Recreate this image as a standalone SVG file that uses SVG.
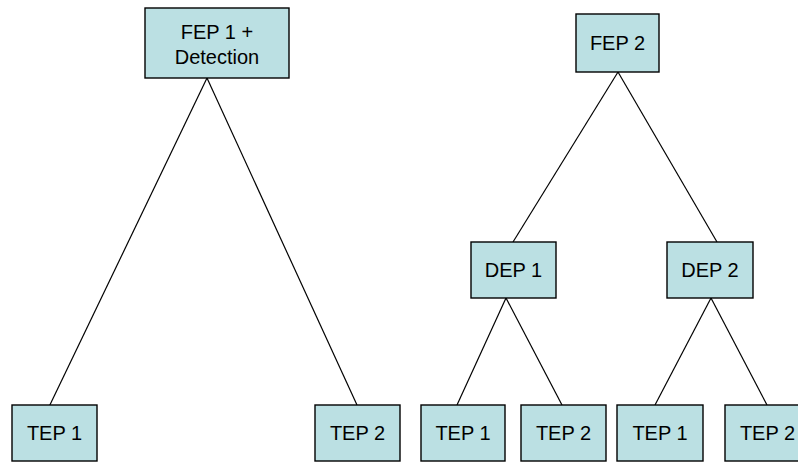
<svg xmlns="http://www.w3.org/2000/svg" width="798" height="462" viewBox="0 0 798 462">
  <style>
    .box { fill: #BBE0E3; stroke: #000; stroke-width: 1.4; }
    .lbl { font-family: "Liberation Sans", Arial, sans-serif; font-size: 20px; fill: #000; text-anchor: middle; }
    .edge { stroke: #000; stroke-width: 1.2; fill: none; }
  </style>
  <rect width="798" height="462" fill="#fff"/>

  <!-- connectors -->
  <g id="connectors">
    <line class="edge" x1="207" y1="78" x2="47" y2="411"/>
    <line class="edge" x1="207" y1="78" x2="357" y2="405"/>
    <line class="edge" x1="618" y1="72" x2="513" y2="242"/>
    <line class="edge" x1="618" y1="72" x2="717" y2="242"/>
    <line class="edge" x1="506" y1="298" x2="457" y2="405"/>
    <line class="edge" x1="506" y1="298" x2="562" y2="405"/>
    <line class="edge" x1="711" y1="298" x2="655" y2="405"/>
    <line class="edge" x1="711" y1="298" x2="767" y2="405"/>
  </g>

  <!-- left tree -->
  <g id="fep1">
    <rect class="box" x="145" y="8" width="144" height="70"/>
    <text class="lbl" x="217" y="39">FEP 1 +</text>
    <text class="lbl" x="217" y="64">Detection</text>
  </g>
  <g id="tep1-a">
    <rect class="box" x="12" y="405" width="85" height="56"/>
    <text class="lbl" x="54.5" y="440">TEP 1</text>
  </g>
  <g id="tep2-a">
    <rect class="box" x="315" y="405" width="85" height="56"/>
    <text class="lbl" x="357.5" y="440">TEP 2</text>
  </g>

  <!-- right tree -->
  <g id="fep2">
    <rect class="box" x="576" y="14" width="83" height="58"/>
    <text class="lbl" x="617.5" y="50">FEP 2</text>
  </g>
  <g id="dep1">
    <rect class="box" x="471" y="242" width="85" height="56"/>
    <text class="lbl" x="513.5" y="277">DEP 1</text>
  </g>
  <g id="dep2">
    <rect class="box" x="667" y="242" width="86" height="56"/>
    <text class="lbl" x="710" y="277">DEP 2</text>
  </g>
  <g id="tep1-b">
    <rect class="box" x="421" y="405" width="84" height="56"/>
    <text class="lbl" x="463" y="440">TEP 1</text>
  </g>
  <g id="tep2-b">
    <rect class="box" x="521" y="405" width="85" height="56"/>
    <text class="lbl" x="563.5" y="440">TEP 2</text>
  </g>
  <g id="tep1-c">
    <rect class="box" x="617" y="405" width="86" height="56"/>
    <text class="lbl" x="660" y="440">TEP 1</text>
  </g>
  <g id="tep2-c">
    <rect class="box" x="725" y="405" width="85" height="56"/>
    <text class="lbl" x="767.5" y="440">TEP 2</text>
  </g>
</svg>
